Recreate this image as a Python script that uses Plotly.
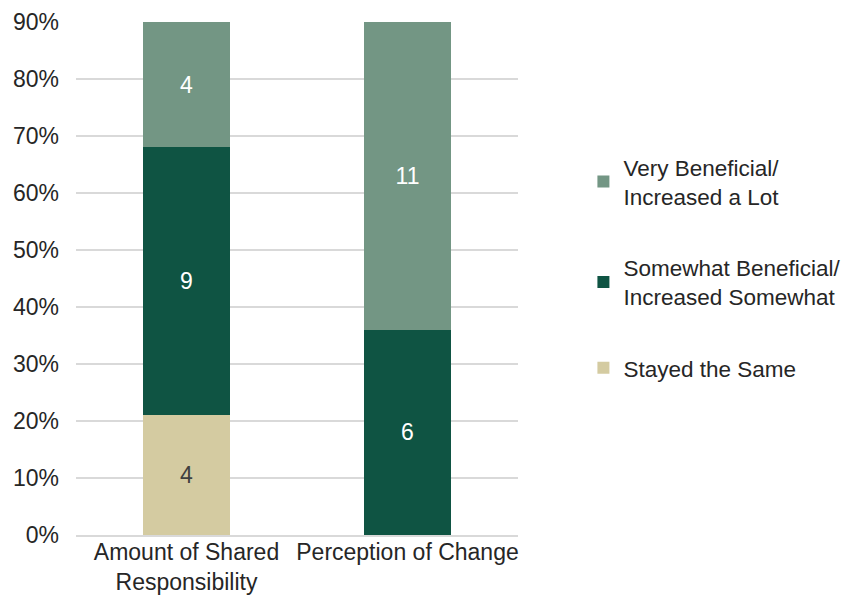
import plotly.graph_objects as go

categories = ["Amount of Shared<br>Responsibility", "Perception of Change"]

# visible share of each segment (percent) and the count shown on it
stayed_pct = [21, 0]
somewhat_pct = [47, 36]
very_pct = [22, 54]

stayed_n = ["4", ""]
somewhat_n = ["9", "6"]
very_n = ["4", "11"]

series = [
    ("Stayed the Same", stayed_pct, stayed_n, "#D4CBA1", "#404040", 3),
    ("Somewhat Beneficial/<br>Increased Somewhat", somewhat_pct, somewhat_n, "#0F5443", "white", 2),
    ("Very Beneficial/<br>Increased a Lot", very_pct, very_n, "#739684", "white", 1),
]

FS = 23

fig = go.Figure()
for i, (name, vals, labels, color, txtcolor, rank) in enumerate(series):
    fig.add_trace(go.Bar(
        x=categories, y=vals, name=name, text=labels,
        marker=dict(color=color, line=dict(width=0)),
        textposition="inside", insidetextanchor="middle",
        textfont=dict(color=txtcolor, size=FS, family="Liberation Sans"),
        legendgroup=f"g{i}", legendrank=rank,
    ))

# page body has an 8px margin, so the figure is 8px smaller and margins shifted
fig.update_layout(
    barmode="stack",
    bargap=0.61,
    width=846, height=592,
    margin=dict(l=68, r=336, t=14, b=65, autoexpand=False),
    plot_bgcolor="white", paper_bgcolor="white",
    font=dict(family="Liberation Sans", size=FS, color="#262626"),
    uniformtext=dict(minsize=FS, mode="show"),
    legend=dict(
        x=1.148, y=0.759, xanchor="left", yanchor="top",
        traceorder="grouped", tracegroupgap=39,
        font=dict(size=22.5, color="#262626"),
        itemwidth=30,
    ),
    yaxis=dict(
        range=[0, 90], dtick=10, ticksuffix="%", automargin=False,
        showgrid=True, gridcolor="#D9D9D9", gridwidth=1.5,
        zeroline=False, showline=False, ticks="", ticklen=0,
        ticklabelstandoff=16,
    ),
    xaxis=dict(
        showline=True, linecolor="#D9D9D9", linewidth=1.5, automargin=False,
        ticks="", tickfont=dict(size=FS), ticklabelstandoff=-4,
    ),
)

fig.write_html("out.html")
